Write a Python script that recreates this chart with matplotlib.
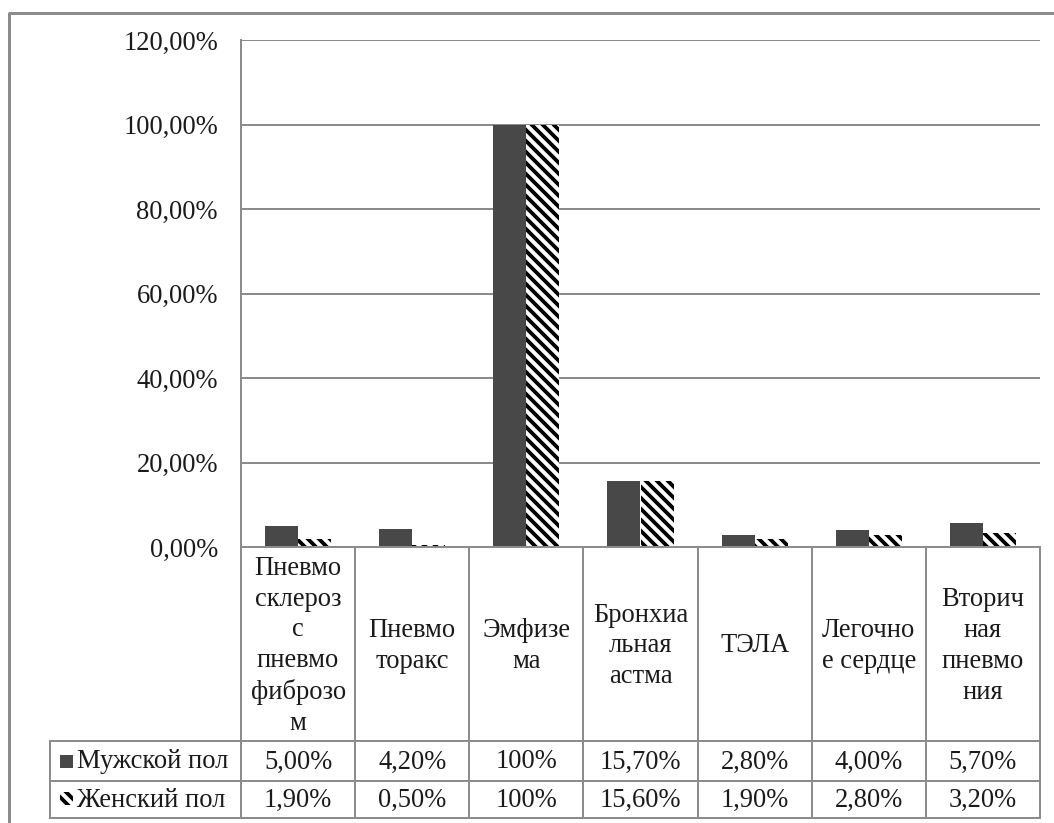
import matplotlib
matplotlib.use("Agg")
import matplotlib.pyplot as plt
from matplotlib.lines import Line2D
from matplotlib.patches import Rectangle
from matplotlib.transforms import blended_transform_factory

# ---- data ----
categories = [
    "Пневмо\nсклероз\nс\nпневмо\nфиброзо\nм",
    "Пневмо\nторакс",
    "Эмфизе\nма",
    "Бронхиа\nльная\nастма",
    "ТЭЛА",
    "Легочно\nе сердце",
    "Вторич\nная\nпневмо\nния",
]
male = [5.0, 4.2, 100.0, 15.7, 2.8, 4.0, 5.7]
female = [1.9, 0.5, 100.0, 15.6, 1.9, 2.8, 3.2]
male_labels = ["5,00%", "4,20%", "100%", "15,70%", "2,80%", "4,00%", "5,70%"]
female_labels = ["1,90%", "0,50%", "100%", "15,60%", "1,90%", "2,80%", "3,20%"]
series_names = ["Мужской пол", "Женский пол"]
yticks = [0, 20, 40, 60, 80, 100, 120]
ytick_labels = ["0,00%", "20,00%", "40,00%", "60,00%", "80,00%", "100,00%", "120,00%"]

# ---- figure ----
DPI = 132
W, H = 1054, 823
PT = 72.0 / DPI  # points per pixel

plt.rcParams["font.family"] = ["Liberation Serif", "DejaVu Serif"]
plt.rcParams["hatch.linewidth"] = 3.8 * PT
FS = 26.5 * PT
GRAY = "#8c8c8c"
DARK = "#484848"
TXT = "#1a1a1a"

fig = plt.figure(figsize=(W / DPI, H / DPI), dpi=DPI)
fig.patch.set_facecolor("white")

def fx(px):
    return px / W

def fy(py):
    return 1 - py / H

ax_left, ax_right, ax_top, ax_bot = 241, 1040, 40, 547
ax = fig.add_axes([fx(ax_left), fy(ax_bot), fx(ax_right - ax_left), (ax_bot - ax_top) / H])

n = len(categories)
xs = list(range(n))
bw = 0.29
ax.bar([x - bw / 2 for x in xs], male, width=bw, color=DARK, linewidth=0, zorder=3)
ax.bar([x + bw / 2 for x in xs], female, width=bw, color="white", edgecolor="black",
       hatch="\\\\\\\\", linewidth=0, zorder=3)

ax.set_xlim(-0.5, n - 0.5)
ax.set_ylim(0, 120)
ax.set_yticks(yticks)
ax.set_yticklabels(ytick_labels, fontsize=FS, color=TXT)
ax.set_xticks([])
ax.tick_params(axis="y", length=0, pad=23 * PT)
ax.yaxis.grid(True, color=GRAY, linewidth=2 * PT)
ax.set_axisbelow(True)
for s in ["top", "right", "bottom"]:
    ax.spines[s].set_visible(False)
ax.spines["left"].set_color(GRAY)
ax.spines["left"].set_linewidth(2 * PT)

# ---- data table ----
tr = blended_transform_factory(ax.transData, fig.transFigure)
row_cat_top, row_cat_bot = 547, 741
row1_bot, row2_bot = 781, 818
leg_left = 50
lw_t = 2 * PT

# horizontal lines across category columns
for py in [row_cat_top, row_cat_bot, row1_bot, row2_bot]:
    fig.add_artist(Line2D([-0.5, n - 0.5], [fy(py), fy(py)], color=GRAY, lw=lw_t,
                          transform=tr, clip_on=False))
# legend column lines
for py in [row_cat_bot, row1_bot, row2_bot]:
    fig.add_artist(Line2D([fx(leg_left), fx(ax_left)], [fy(py), fy(py)], color=GRAY,
                          lw=lw_t, transform=fig.transFigure))
fig.add_artist(Line2D([fx(leg_left), fx(leg_left)], [fy(row_cat_bot), fy(row2_bot)],
                      color=GRAY, lw=lw_t, transform=fig.transFigure))
# vertical lines
for i in range(n + 1):
    fig.add_artist(Line2D([i - 0.5, i - 0.5], [fy(row_cat_top), fy(row2_bot)],
                          color=GRAY, lw=lw_t, transform=tr, clip_on=False))

for i in range(n):
    fig.text(i, fy((row_cat_top + row_cat_bot) / 2 + 2), categories[i], transform=tr,
             ha="center", va="center", fontsize=FS, linespacing=1.3, color=TXT)
    fig.text(i, fy((row_cat_bot + row1_bot) / 2 + 1), male_labels[i], transform=tr,
             ha="center", va="center", fontsize=FS, color=TXT)
    fig.text(i, fy((row1_bot + row2_bot) / 2 + 1), female_labels[i], transform=tr,
             ha="center", va="center", fontsize=FS, color=TXT)

# legend keys in table
fig.add_artist(Rectangle((fx(60), fy(768)), fx(13), 13 / H, facecolor=DARK,
                         linewidth=0, transform=fig.transFigure))
fig.add_artist(Rectangle((fx(60), fy(805)), fx(13), 13 / H, facecolor="white",
                         edgecolor="black", hatch="\\\\\\\\", linewidth=0,
                         transform=fig.transFigure))
fig.text(fx(77), fy((row_cat_bot + row1_bot) / 2 + 1), series_names[0], ha="left",
         va="center", fontsize=FS, color=TXT)
fig.text(fx(77), fy((row1_bot + row2_bot) / 2 + 1), series_names[1], ha="left",
         va="center", fontsize=FS, color=TXT)

# outer chart frame (left and top edges visible)
fig.add_artist(Line2D([fx(9), fx(9), fx(W + 5)], [fy(H + 5), fy(13), fy(13)],
                      color=GRAY, lw=3 * PT, transform=fig.transFigure, clip_on=False))

fig.savefig("out.png", dpi=DPI, facecolor="white")
